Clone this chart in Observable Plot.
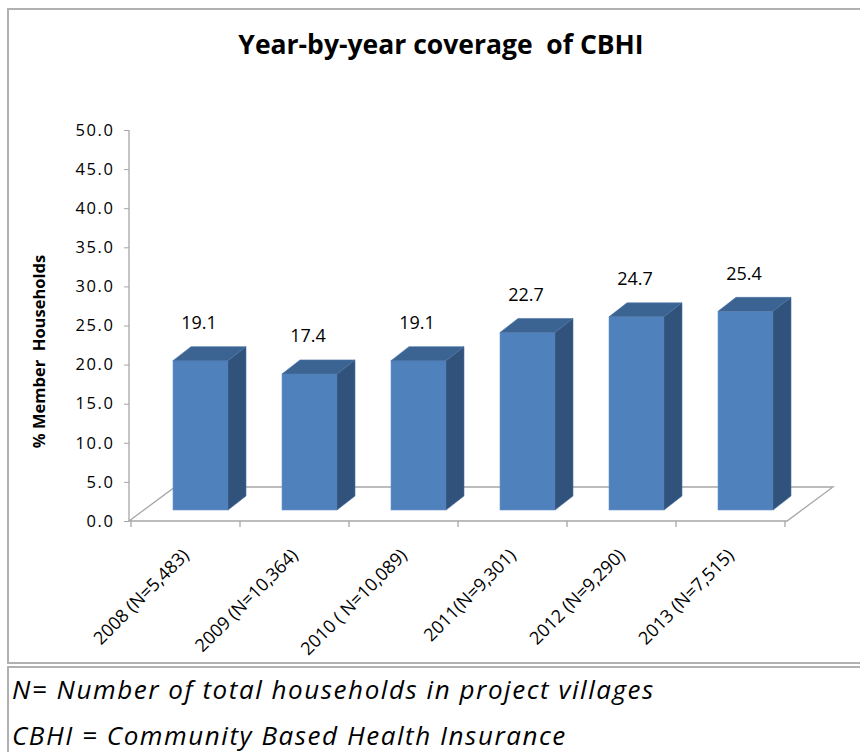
<!DOCTYPE html>
<html>
<head>
<meta charset="utf-8">
<script src="https://cdn.jsdelivr.net/npm/d3@7"></script>
<script src="https://cdn.jsdelivr.net/npm/@observablehq/plot@0.6"></script>
<style>
  html, body { margin: 0; padding: 0; background: #fff; width: 860px; height: 752px; overflow: hidden; }
  body { position: relative; font-family: "Open Sans", Lato, sans-serif; }
  .frame { position: absolute; left: 7px; top: 8px; width: 880px; height: 652px;
           border-left: 2px solid #b0b0b0; border-top: 2px solid #b0b0b0; border-bottom: 2px solid #b0b0b0; }
  .frame2 { position: absolute; left: 7px; top: 666px; width: 880px; height: 100px;
            border-left: 2px solid #b0b0b0; border-top: 2px solid #b0b0b0; }
  #title { position: absolute; left: 441px; top: 26px; transform: translateX(-50%); white-space: nowrap;
           font-family: "Open Sans", sans-serif; font-weight: bold; font-size: 26.5px; color: #000; }
  #chart { position: absolute; left: 0; top: 60px; }
  #chart g[aria-label="y-axis tick label"] text { letter-spacing: 1.6px; }
  .note { position: absolute; left: 12px; font-family: "Open Sans", sans-serif; font-style: italic; font-size: 26px;
          line-height: 30px; color: #000; white-space: nowrap; letter-spacing: 1.55px; }
</style>
</head>
<body>
<div class="frame"></div>
<div class="frame2"></div>
<div id="title">Year-by-year coverage&nbsp; of CBHI</div>
<div id="chart"></div>
<div class="note" style="top:674px">N= Number of total households in project villages</div>
<div class="note" style="top:720px">CBHI = Community Based Health Insurance</div>
<script>
const categories = ["2008 (N=5,483)", "2009 (N=10,364)", "2010 ( N=10,089)", "2011(N=9,301)", "2012 (N=9,290)", "2013 (N=7,515)"];
const values = [19.1, 17.4, 19.1, 22.7, 24.7, 25.4];
const yTicks = [0, 5, 10, 15, 20, 25, 30, 35, 40, 45, 50];
const yLabel = "% Member  Households";

const data = categories.map((c, i) => ({category: c, value: values[i]}));

// 3D look (pixel styling only)
const LIFT = 11;       // bar front sits this far above the front floor edge
const SHIFT = 15;      // bar horizontal shift from band center due to depth
const BAR_W = 55;
const DEPTH_X = 18, DEPTH_Y = 14;
const FLOOR_X = 46, FLOOR_Y = 34;
const FRONT = "#4f81bd", TOP = "#3c6492", SIDE = "#30527b";
const GRID = "#a6a6a6";

function floorMark(index, scales, values, dims) {
  const x = scales.x, y = scales.y;
  const [xa, xb] = x.range();
  const y0 = y(0);
  const g = d3.create("svg:g").attr("fill", "none").attr("stroke", GRID).attr("stroke-width", 1.3);
  g.append("path").attr("d",
    `M${xa},${y0}L${xa + FLOOR_X},${y0 - FLOOR_Y}L${xb + FLOOR_X},${y0 - FLOOR_Y}L${xb},${y0}Z`);
  // y axis line
  g.append("line").attr("x1", xa).attr("x2", xa).attr("y1", y(50)).attr("y2", y0);
  // x tick marks at band boundaries
  const bw = x.bandwidth();
  for (let i = 0; i <= categories.length; i++) {
    const xx = i < categories.length ? x(categories[i]) : x(categories[i - 1]) + bw;
    g.append("line").attr("x1", xx).attr("x2", xx).attr("y1", y0).attr("y2", y0 + 6);
  }
  // y axis title
  g.append("text")
    .attr("transform", `translate(45,${(y(50) + y0) / 2 + 26}) rotate(-90)`)
    .attr("text-anchor", "middle")
    .attr("fill", "#000").attr("stroke", "none")
    .attr("font-weight", "bold").attr("font-size", 16.5)
    .attr("font-family", "'Open Sans', sans-serif")
    .style("white-space", "pre")
    .text(yLabel);
  return g.node();
}

function barFacesMark(index, scales) {
  const x = scales.x, y = scales.y;
  const bw = x.bandwidth();
  const g = d3.create("svg:g");
  data.forEach(d => {
    const xl = x(d.category) + bw / 2 + SHIFT - BAR_W / 2;
    const xr = xl + BAR_W;
    const yt = y(d.value) - LIFT;
    const yb = y(0) - LIFT;
    g.append("path").attr("fill", TOP).attr("stroke", "#4a74a8").attr("stroke-width", 0.6)
      .attr("d", `M${xl},${yt}L${xr},${yt}L${xr + DEPTH_X},${yt - DEPTH_Y}L${xl + DEPTH_X},${yt - DEPTH_Y}Z`);
    g.append("path").attr("fill", SIDE).attr("stroke", "#4a74a8").attr("stroke-width", 0.6)
      .attr("d", `M${xr},${yt}L${xr + DEPTH_X},${yt - DEPTH_Y}L${xr + DEPTH_X},${yb - DEPTH_Y}L${xr},${yb}Z`);
  });
  return g.node();
}

const plot = Plot.plot({
  width: 860,
  height: 600,
  marginTop: 70,
  marginBottom: 139,
  marginLeft: 129,
  marginRight: 73,
  style: {fontFamily: "'Open Sans', sans-serif", background: "transparent", color: "#000"},
  x: {domain: categories, padding: 0, label: null},
  y: {domain: [0, 50], label: null},
  marks: [
    floorMark,
    Plot.barY(data, {
      x: "category", y: "value", dy: -LIFT,
      insetLeft: 0, insetRight: 0,
      fill: FRONT, stroke: "#6b95c8", strokeWidth: 0.6,
      render(index, scales, values, dims, context, next) {
        const bw = scales.x.bandwidth();
        const il = bw / 2 + SHIFT - BAR_W / 2;
        const el = next(index, scales, values, dims, context);
        d3.select(el).selectAll("rect").each(function() {
          const r = d3.select(this);
          r.attr("x", +r.attr("x") + il).attr("width", BAR_W);
        });
        return el;
      }
    }),
    barFacesMark,
    Plot.text(data, {
      x: "category", y: "value", text: d => d.value.toFixed(1),
      dx: SHIFT - 2, dy: -LIFT - DEPTH_Y - 24, fontSize: 18, fill: "#000"
    }),
    Plot.axisY({ticks: yTicks, tickFormat: d => d.toFixed(1), tickSize: 5, tickPadding: 10,
      fontSize: 16.5, stroke: GRID, fill: "#000", label: null}),
    Plot.axisX({tickRotate: -45, tickSize: 0, tickPadding: 31, dx: 0, fontSize: 18, fill: "#000", label: null})
  ]
});
document.getElementById("chart").appendChild(plot);
</script>
</body>
</html>
